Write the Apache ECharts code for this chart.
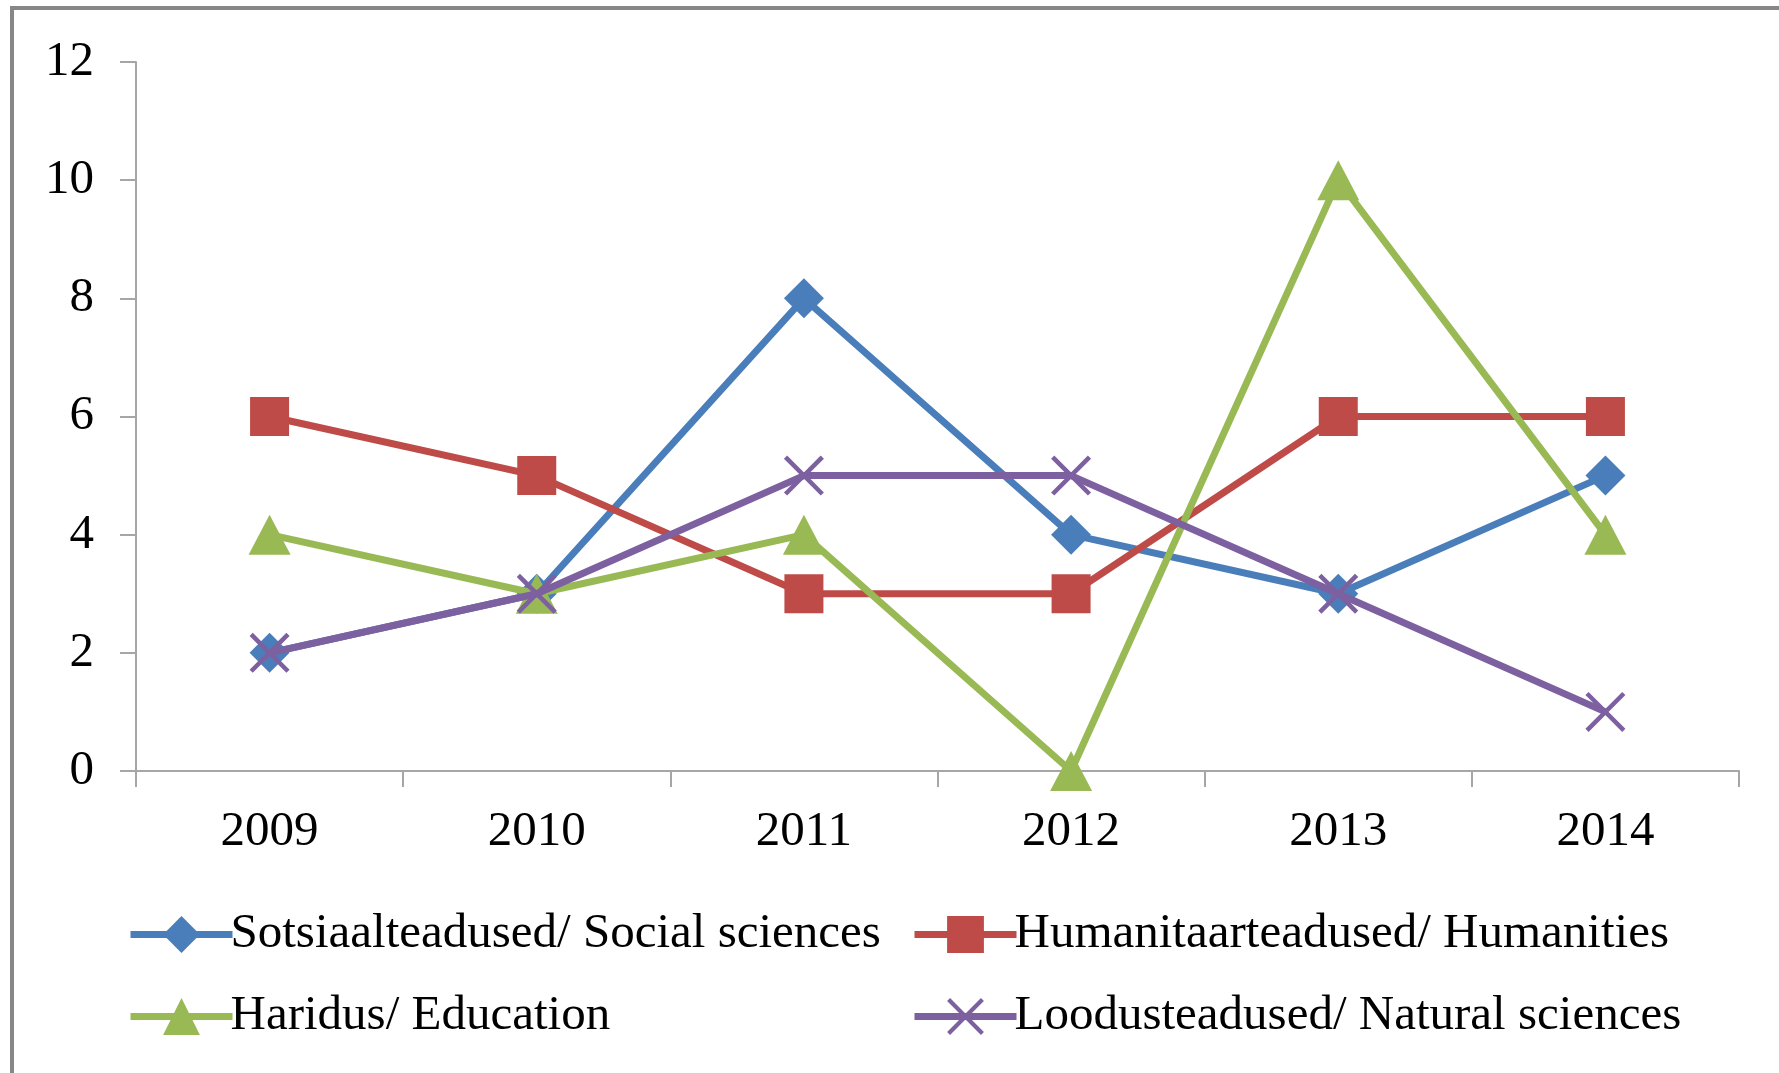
<!DOCTYPE html>
<html><head><meta charset="utf-8">
<script src="https://cdn.jsdelivr.net/npm/echarts@6/dist/echarts.min.js"></script>
<style>html,body{margin:0;padding:0;background:#fff}#c{width:1779px;height:1073px}</style>
</head><body><div id="c"></div>
<script>
const years = ['2009','2010','2011','2012','2013','2014'];
const social = [2, 3, 8, 4, 3, 5];
const humanities = [6, 5, 3, 3, 6, 6];
const education = [4, 3, 4, 0, 10, 4];
const natural = [2, 3, 5, 5, 3, 1];
const names = ['Sotsiaalteadused/ Social sciences','Humanitaarteadused/ Humanities','Haridus/ Education','Loodusteadused/ Natural sciences'];
const colors = ['#4A7EBB','#BE4B48','#98B954','#7D60A0'];
const xPath = 'path://M0,0.8L0.8,0L10,9.2L9.2,10Z M9.2,0L10,0.8L0.8,10L0,9.2Z';
const symbols = ['diamond','rect','triangle',xPath];
const symSizes = [[40,40],[39,39],[42,40],[40,40]];
const datasets = [social, humanities, education, natural];
const font = '"Liberation Serif","Times New Roman",serif';

const chart = echarts.init(document.getElementById('c'));
const series = datasets.map((d,i)=>({
  name: names[i], type:'line', data:d, symbol:symbols[i], symbolSize:symSizes[i],
  showAllSymbol:true, animation:false,
  lineStyle:{color:colors[i], width:7},
  itemStyle:{color:colors[i]}, z: 2+i
}));
const legPos = [[122,905],[906,905],[122,987],[906,987]];
const legends = names.map((n,i)=>({
  data:[n], left:legPos[i][0], top:legPos[i][1], itemWidth:102, itemHeight:46, itemGap:0,
  lineStyle:{width:7},
  textStyle:{fontFamily:font, fontSize:49, color:'#000', padding:[0,0,0,-7]},
  selectedMode:false
}));
chart.setOption({
  backgroundColor:'#fff',
  animation:false,
  graphic:[{type:'rect', shape:{x:12,y:8,width:1850,height:1150}, style:{fill:'none', stroke:'#878787', lineWidth:4}, silent:true}],
  grid:{left:136, right:40, top:62, bottom:302},
  legend: legends,
  xAxis:{type:'category', data:years, boundaryGap:true,
    axisLine:{lineStyle:{color:'#A6A6A6', width:2}},
    axisTick:{show:true, inside:false, length:16, lineStyle:{color:'#A6A6A6', width:2}},
    axisLabel:{color:'#000', fontFamily:font, fontSize:49, margin:37},
    splitLine:{show:false}},
  yAxis:{type:'value', min:0, max:12, interval:2,
    axisLine:{show:true, lineStyle:{color:'#A6A6A6', width:2}},
    axisTick:{show:true, length:16, lineStyle:{color:'#A6A6A6', width:2}},
    axisLabel:{color:'#000', fontFamily:font, fontSize:49, margin:42},
    splitLine:{show:false}},
  series: series
});
</script></body></html>
